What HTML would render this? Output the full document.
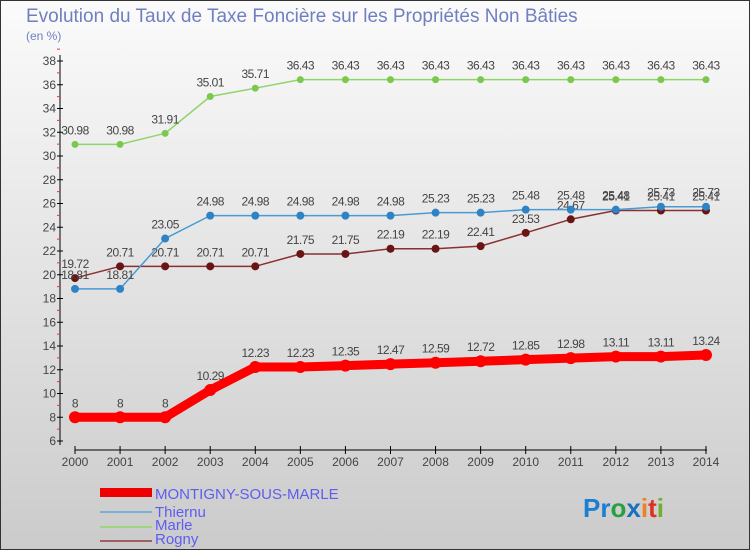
<!DOCTYPE html>
<html><head><meta charset="utf-8"><style>
body{margin:0;width:750px;height:550px;overflow:hidden}
svg{display:block;font-family:"Liberation Sans",sans-serif}
</style></head><body>
<svg id="c" width="750" height="550">
<defs><linearGradient id="bg" x1="0" y1="0" x2="0" y2="1"><stop offset="0" stop-color="#fbfbfb"/><stop offset="1" stop-color="#cbcbcb"/></linearGradient></defs>
<rect x="0.5" y="0.5" width="749" height="549" fill="url(#bg)" stroke="#333"/>
<text x="26" y="22" font-size="19" fill="#6f7fc0">Evolution du Taux de Taxe Foncière sur les Propriétés Non Bâties</text>
<text x="26" y="40" font-size="12" fill="#6f7fc0">(en %)</text>
<g id="axes"></g><g id="series"></g>
<g>
<rect x="100" y="488" width="52" height="9" fill="#e00"/>
<text x="155" y="499" font-size="15" fill="#5d5df0">MONTIGNY-SOUS-MARLE</text>
<line x1="100" y1="512" x2="152" y2="512" stroke="#7ab0d8" stroke-width="2"/>
<text x="155" y="517" font-size="15" fill="#5d5df0">Thiernu</text>
<line x1="100" y1="527" x2="152" y2="527" stroke="#9dd67e" stroke-width="2"/>
<text x="155" y="530" font-size="15" fill="#5d5df0">Marle</text>
<line x1="100" y1="541" x2="152" y2="541" stroke="#a06060" stroke-width="2"/>
<text x="155" y="544" font-size="15" fill="#5d5df0">Rogny</text>
</g>
<text x="583" y="517" font-size="26" font-weight="bold"><tspan fill="#1a7fd0">Pr</tspan><tspan fill="#27a040">o</tspan><tspan fill="#1a6fc0">x</tspan><tspan fill="#f08020">i</tspan><tspan fill="#e03020">t</tspan><tspan fill="#70b030">i</tspan></text>
</svg>
<script>
const years=[2000,2001,2002,2003,2004,2005,2006,2007,2008,2009,2010,2011,2012,2013,2014];
const montigny=[8,8,8,10.29,12.23,12.23,12.35,12.47,12.59,12.72,12.85,12.98,13.11,13.11,13.24];
const thiernu=[18.81,18.81,23.05,24.98,24.98,24.98,24.98,24.98,25.23,25.23,25.48,25.48,25.48,25.73,25.73];
const marle=[30.98,30.98,31.91,35.01,35.71,36.43,36.43,36.43,36.43,36.43,36.43,36.43,36.43,36.43,36.43];
const rogny=[19.72,20.71,20.71,20.71,20.71,21.75,21.75,22.19,22.19,22.41,23.53,24.67,25.41,25.41,25.41];
const yTicks=[6,8,10,12,14,16,18,20,22,24,26,28,30,32,34,36,38];
const NS='http://www.w3.org/2000/svg';
const X=i=>75+i*45.07;
const Y=v=>441-(v-6)*11.875;
function mk(t,a,p){const e=document.createElementNS(NS,t);for(const k in a)e.setAttribute(k,a[k]);p.appendChild(e);return e;}
const ax=document.getElementById('axes');
let l=mk('line',{x1:60,y1:55,x2:60,y2:445,stroke:'#000'},ax);


yTicks.forEach(v=>{
 mk('line',{x1:57,y1:Y(v),x2:63,y2:Y(v),stroke:'#000'},ax);
 mk('line',{x1:57,y1:Y(v+1),x2:60,y2:Y(v+1),stroke:'#e33'},ax);
 const t=mk('text',{x:56,y:Y(v)+4,'font-size':12,fill:'#444','text-anchor':'end'},ax);t.textContent=v;
 
 
});
l=mk('line',{x1:75,y1:450,x2:707,y2:450,stroke:'#000'},ax);


years.forEach((y,i)=>{
 mk('line',{x1:X(i),y1:446,x2:X(i),y2:454,stroke:'#000'},ax);
 const t=mk('text',{x:X(i),y:466,'font-size':12,fill:'#444','text-anchor':'middle'},ax);t.textContent=y;
 
 
});
const sg=document.getElementById('series');
function draw(name,vals,color,dot,w,r){
 const g=mk('g',{},sg);
 
 
 const p=mk('polyline',{points:vals.map((v,i)=>X(i)+','+Y(v)).join(' '),fill:'none',stroke:color,'stroke-width':w,'stroke-linejoin':'round'},g);
 
 
 vals.forEach((v,i)=>{
  const c=mk('circle',{cx:X(i),cy:Y(v),r:r,fill:dot},g);
  
  
  const t=mk('text',{x:X(i),y:Y(v)-10,'font-size':12,fill:'#444','text-anchor':'middle','letter-spacing':'-0.5'},g);t.textContent=v;
  
  
 });
}
draw('marle',marle,'#8fd46a','#7cc84f',1.5,3.5);
draw('rogny',rogny,'#8a3030','#6a1515',1.5,4);
draw('thiernu',thiernu,'#4a9ad4','#2f82c4',1.5,4);
draw('montigny',montigny,'#f00','#f00',9,6);
</script>
</body></html>
